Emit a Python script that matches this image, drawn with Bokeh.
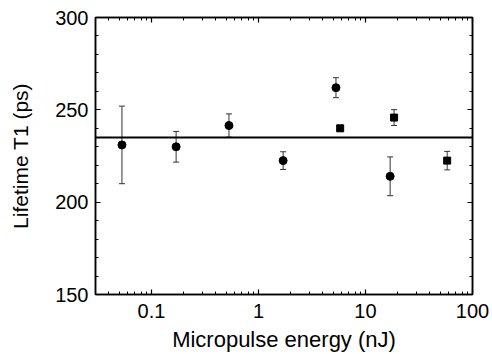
from bokeh.plotting import figure
from bokeh.models import (ColumnDataSource, Whisker, TeeHead, Span, LogAxis, LinearAxis,
                          SingleIntervalTicker, LogTicker, CustomJSTickFormatter, Range1d)
from bokeh.embed import file_html
from bokeh.resources import INLINE

# Data
circle_energy = [0.053, 0.17, 0.53, 1.7, 5.3, 17.0]
circle_lifetime = [231.0, 230.0, 241.5, 222.5, 262.0, 214.0]
circle_error = [21.0, 8.3, 6.3, 4.8, 5.4, 10.5]

square_energy = [5.8, 18.5, 58.0]
square_lifetime = [240.0, 245.8, 222.5]
square_error = [1.5, 4.3, 5.0]

mean_lifetime = 235.0

FONT = "Liberation Sans"
INK = "black"
ERR = "#333333"

circ = ColumnDataSource(dict(
    x=circle_energy, y=circle_lifetime,
    lower=[v - e for v, e in zip(circle_lifetime, circle_error)],
    upper=[v + e for v, e in zip(circle_lifetime, circle_error)],
))
sq = ColumnDataSource(dict(
    x=square_energy, y=square_lifetime,
    lower=[v - e for v, e in zip(square_lifetime, square_error)],
    upper=[v + e for v, e in zip(square_lifetime, square_error)],
))

p = figure(width=492, height=354, x_axis_type="log",
           x_range=Range1d(0.03, 100), y_range=Range1d(150, 300),
           output_backend="svg", toolbar_location=None,
           min_border_left=95, min_border_right=20, min_border_top=17, min_border_bottom=58)
p.xgrid.grid_line_color = None
p.ygrid.grid_line_color = None
p.outline_line_color = INK
p.outline_line_width = 1.5
p.background_fill_color = "white"
p.border_fill_color = "white"

xt = LogTicker(num_minor_ticks=10)
yt = SingleIntervalTicker(interval=50, num_minor_ticks=5)
fmt = CustomJSTickFormatter(code="return String(Number(tick.toPrecision(6)));")
blank = CustomJSTickFormatter(code="return '';")


def style(ax):
    ax.axis_line_color = INK
    ax.axis_line_width = 1.5
    ax.major_tick_in = 5
    ax.major_tick_out = 0
    ax.minor_tick_in = 3
    ax.minor_tick_out = 0
    ax.major_tick_line_color = INK
    ax.minor_tick_line_color = INK
    ax.major_tick_line_width = 1.2
    ax.minor_tick_line_width = 1
    ax.major_label_text_font = FONT
    ax.major_label_text_font_size = "20px"
    ax.major_label_text_color = INK
    ax.axis_label_text_font = FONT
    ax.axis_label_text_font_size = "21px"
    ax.axis_label_text_font_style = "normal"
    ax.axis_label_text_color = INK


xa = p.xaxis[0]
xa.ticker = xt
xa.formatter = fmt
style(xa)
xa.axis_label = "Micropulse energy (nJ)"
xa.axis_label_text_font_size = "22px"
xa.major_label_standoff = 9
xa.axis_label_standoff = 6

ya = p.yaxis[0]
ya.ticker = yt
style(ya)
ya.axis_label = "Lifetime T1 (ps)"
ya.major_label_standoff = 7
ya.axis_label_standoff = 20

top = LogAxis(ticker=xt, formatter=blank)
style(top)
top.major_label_text_font_size = "1px"
top.major_label_standoff = 0
p.add_layout(top, "above")

right = LinearAxis(ticker=yt, formatter=blank)
style(right)
right.major_label_text_font_size = "1px"
right.major_label_standoff = 0
p.add_layout(right, "right")

p.add_layout(Span(location=mean_lifetime, dimension="width", line_color=INK, line_width=2))

for src in (circ, sq):
    p.add_layout(Whisker(source=src, base="x", lower="lower", upper="upper", dimension="height",
                         line_color=ERR, line_width=1,
                         lower_head=TeeHead(size=6, line_color=ERR, line_width=1),
                         upper_head=TeeHead(size=6, line_color=ERR, line_width=1)))

p.scatter("x", "y", source=circ, marker="circle", size=8, color=INK)
p.scatter("x", "y", source=sq, marker="square", size=7, color=INK)

open("out.html", "w").write(file_html(p, INLINE))
